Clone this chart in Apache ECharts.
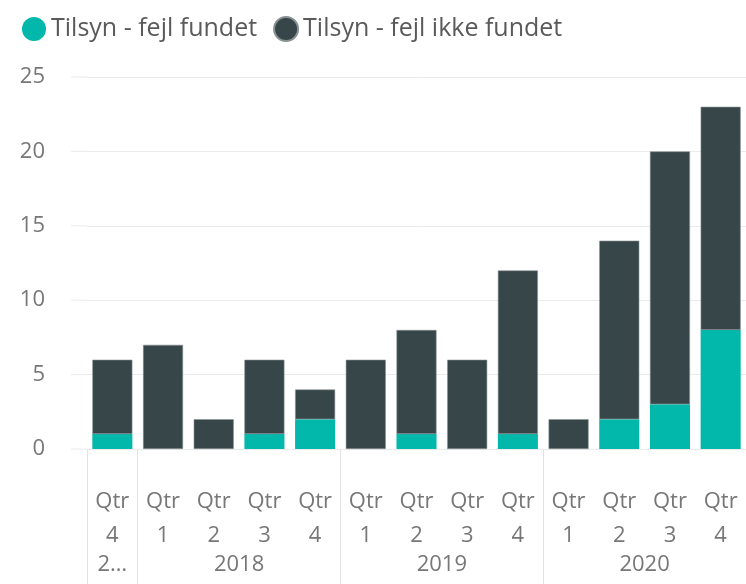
<!DOCTYPE html>
<html><head><meta charset="utf-8">
<script src="https://cdn.jsdelivr.net/npm/echarts@6/dist/echarts.min.js"></script>
<style>html,body{margin:0;padding:0;background:#fff}#c{width:746px;height:584px}</style>
</head><body><div id="c"></div>
<script>
const quarters = ['Qtr\n4','Qtr\n1','Qtr\n2','Qtr\n3','Qtr\n4','Qtr\n1','Qtr\n2','Qtr\n3','Qtr\n4','Qtr\n1','Qtr\n2','Qtr\n3','Qtr\n4'];
const yearLabels = ['2…','2018','2019','2020'];
const yearCenters = [0.5, 3, 7, 11];
const yearBounds = [0, 1, 5, 9];
const fejlFundet = [1, 0, 0, 1, 2, 0, 1, 0, 1, 0, 2, 3, 8];
const fejlIkkeFundet = [5, 7, 2, 5, 2, 6, 7, 6, 11, 2, 12, 17, 15];
const yTicks = [0, 5, 10, 15, 20, 25];

const FONT = 'Open Sans';
const chart = echarts.init(document.getElementById('c'));
chart.setOption({
  animation: false,
  textStyle: {fontFamily: FONT},
  legend: {
    left: 17, top: 11, icon: 'circle', itemWidth: 24, itemHeight: 24, itemGap: 16,
    textStyle: {fontSize: 25, color: '#5a5a5a', fontFamily: FONT},
    data: ['Tilsyn - fejl fundet', 'Tilsyn - fejl ikke fundet']
  },
  grid: {left: 87, top: 77, width: 662, height: 372, containLabel: false},
  xAxis: [{
    type: 'category', data: quarters,
    axisLine: {show: false}, axisTick: {show: false},
    axisLabel: {interval: 0, fontSize: 22, color: '#777', lineHeight: 34, margin: 36, fontFamily: FONT}
  }, {
    type: 'value', position: 'bottom', min: 0, max: 13,
    axisLine: {show: false}, splitLine: {show: false},
    axisTick: {show: true, customValues: yearBounds, length: 140, inside: false, lineStyle: {color: '#e3e3e3', width: 1}},
    axisLabel: {customValues: yearCenters, fontSize: 22, color: '#777', margin: 105, fontFamily: FONT,
      formatter: function (v) { return yearLabels[yearCenters.indexOf(v)]; }}
  }],
  yAxis: {
    type: 'value', min: 0, max: 25, interval: 5,
    axisLabel: {fontSize: 22, color: '#777', margin: 42, fontFamily: FONT,
      formatter: function (v) { return yTicks.indexOf(v) >= 0 ? String(v) : ''; }},
    splitLine: {lineStyle: {color: '#ebebeb', width: 1}},
    axisLine: {show: false}, axisTick: {show: false}
  },
  series: [{
    name: 'Tilsyn - fejl fundet', type: 'bar', stack: 'a', data: fejlFundet,
    barCategoryGap: '21%', itemStyle: {color: '#01B8AA'}
  }, {
    name: 'Tilsyn - fejl ikke fundet', type: 'bar', stack: 'a', data: fejlIkkeFundet,
    barCategoryGap: '21%', itemStyle: {color: '#374649', borderColor: '#8a9294', borderWidth: 0.6}
  }]
});
const grid = chart.getModel().getComponent('grid').coordinateSystem.getRect();
const lines = yTicks.map(function (v) {
  const y = chart.convertToPixel({yAxisIndex: 0}, v);
  return {type: 'line', shape: {x1: 71, y1: y, x2: grid.x, y2: y}, style: {stroke: '#ebebeb', lineWidth: 1}, silent: true};
});
chart.setOption({graphic: lines});
</script></body></html>
